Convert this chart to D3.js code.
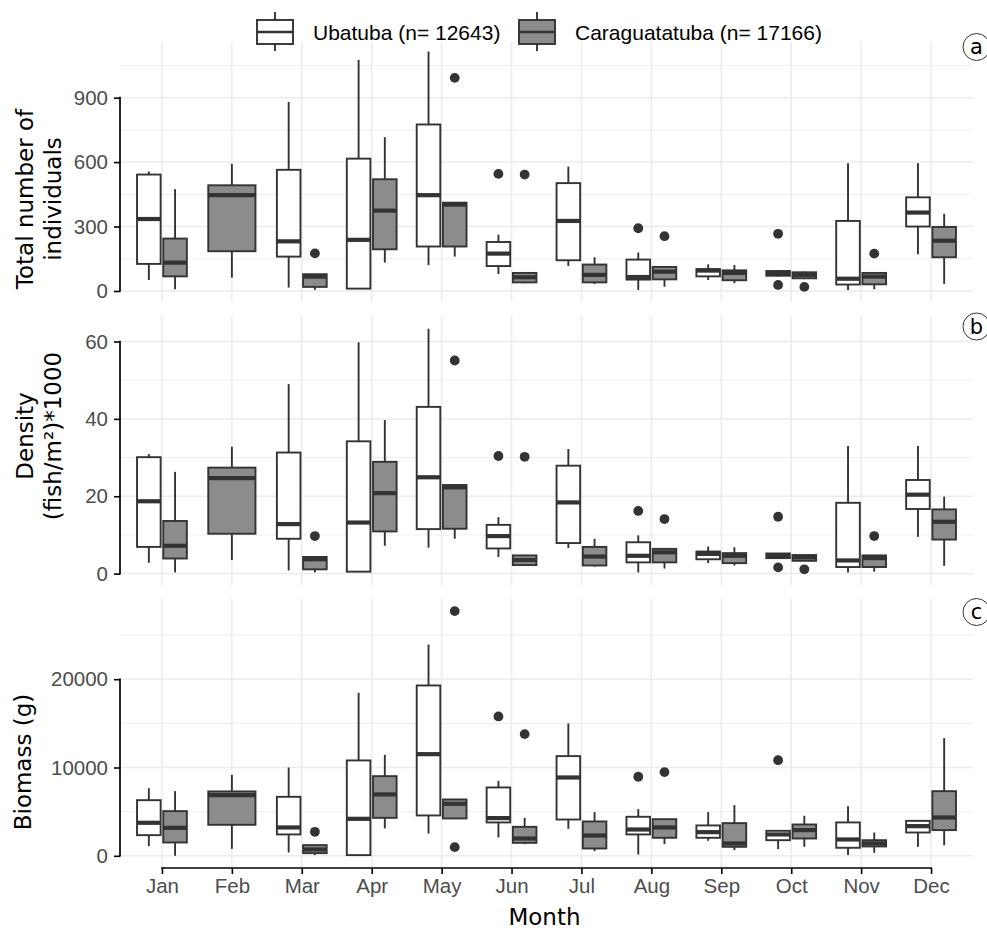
<!DOCTYPE html>
<html>
<head>
<meta charset="utf-8">
<script src="https://cdn.jsdelivr.net/npm/d3@7"></script>
<style>
  body { margin: 0; background: #fff; }
</style>
</head>
<body>
<div id="chart"></div>
<script>
// ---- data ----
const months = ["Jan", "Feb", "Mar", "Apr", "May", "Jun", "Jul", "Aug", "Sep", "Oct", "Nov", "Dec"];
const sites = ["Ubatuba (n= 12643)", "Caraguatatuba (n= 17166)"];

// [lower whisker, q1, median, q3, upper whisker]; null = no sample that month
const ubaIndividuals = [[51,126,335,542,556], null, [16,160,231,564,880], [11,11,238,616,1076],
  [120,207,446,775,1115], [79,116,174,228,262], [116,143,326,502,579], [5,53,65,146,179],
  [51,68,95,102,124], [68,71,82,93,97], [5,30,57,326,595], [171,300,365,436,595]];
const carIndividuals = [[8,68,132,244,474], [62,185,446,492,592], [5,19,67,78,78], [132,194,374,520,716],
  [160,207,402,411,411], [36,40,64,84,84], [33,40,75,123,157], [20,54,90,112,112],
  [36,50,84,96,121], [55,59,75,87,90], [8,31,67,84,84], [33,157,234,298,359]];
const ubaIndividualsOut = [[], [], [], [], [], [545], [], [292], [], [266, 28], [], []];
const carIndividualsOut = [[], [], [175], [], [992], [542], [], [255], [], [19], [174], []];

const ubaDensity = [[2.8,6.9,18.7,30.1,30.9], null, [0.8,9.0,12.8,31.3,49.0], [0.5,0.5,13.2,34.2,59.8],
  [6.7,11.5,24.9,43.1,63.3], [4.3,6.5,9.7,12.6,14.6], [6.6,7.9,18.4,27.9,32.2], [0.3,2.9,4.6,8.1,9.9],
  [2.7,3.7,5.1,5.7,7.0], [4.0,4.0,4.6,5.2,5.3], [0.3,1.7,3.4,18.3,33.0], [9.5,16.7,20.4,24.2,33.0]];
const carDensity = [[0.3,3.9,7.2,13.6,26.3], [3.5,10.3,24.7,27.4,32.8], [0.3,1.1,3.7,4.3,4.3], [7.2,10.9,20.8,28.9,39.7],
  [9.0,11.6,22.3,22.9,22.9], [2.2,2.2,3.5,4.7,4.7], [1.8,2.1,4.4,6.9,9.0], [1.3,2.9,5.5,6.4,6.4],
  [2.1,2.7,4.6,5.3,6.8], [3.3,3.3,4.2,4.8,4.8], [0.5,1.7,4.0,4.7,4.7], [2.0,8.8,13.4,16.6,19.9]];
const ubaDensityOut = [[], [], [], [], [], [30.4], [], [16.2], [], [14.7, 1.6], [], []];
const carDensityOut = [[], [], [9.7], [], [55.1], [30.2], [], [14.1], [], [1.1], [9.7], []];

const ubaBiomass = [[1090,2340,3740,6300,7660], null, [380,2420,3210,6680,10000], [80,80,4190,10800,18460],
  [2530,4570,11510,19290,23930], [2080,3780,4270,7740,8490], [3060,4110,8870,11290,14990], [150,2420,2980,4420,5290],
  [1700,2040,2680,3440,4950], [760,1770,2420,2830,2830], [80,910,1850,3780,5620], [1020,2640,3360,3960,4040]];
const carBiomass = [[0,1510,3170,5060,7320], [790,3510,6870,7290,9170], [80,300,720,1210,1210], [3100,4300,6950,9020,11440],
  [4230,4230,5890,6380,6380], [1320,1470,1960,3280,4300], [530,830,2300,3890,4950], [1320,2040,3210,4150,4150],
  [640,1020,1400,3700,5740], [1020,1960,2910,3550,4530], [340,1060,1400,1770,2640], [1210,2910,4340,7320,13330]];
const ubaBiomassOut = [[], [], [], [], [], [15780], [], [8950], [], [10830], [], []];
const carBiomassOut = [[], [], [2720], [], [27710, 980], [13780], [], [9480], [], [], [], []];

const individualsTicks = [0, 300, 600, 900];
const densityTicks = [0, 20, 40, 60];
const biomassTicks = [0, 10000, 20000];

// ---- layout ----
const width = 987, height = 931;
const plotLeft = 120, plotRight = 973;
const fills = ["#ffffff", "#8c8c8c"];
const ink = "#333333";
const gridColor = "#ebebeb";
const tickFont = "'Liberation Sans', Arial, sans-serif";
const titleFont = "'DejaVu Sans', Verdana, sans-serif";
const lw = 1.9;

const panels = [
  { tag: "a", title: ["Total number of", "individuals"], titleY: 199,
    top: 42, bottom: 301.5, domain: [-49, 1159], ticks: individualsTicks,
    data: [ubaIndividuals, carIndividuals], out: [ubaIndividualsOut, carIndividualsOut], tagY: 47 },
  { tag: "b", title: ["Density", "(fish/m\u00B2)*1000"], titleY: 436,
    top: 316, bottom: 585, domain: [-2.95, 66.6], ticks: densityTicks,
    data: [ubaDensity, carDensity], out: [ubaDensityOut, carDensityOut], tagY: 326.5 },
  { tag: "c", title: ["Biomass (g)"], titleY: 762,
    top: 599, bottom: 868, domain: [-1380, 29080], ticks: biomassTicks,
    data: [ubaBiomass, carBiomass], out: [ubaBiomassOut, carBiomassOut], tagY: 612 }
];

const svg = d3.select("#chart").append("svg")
  .attr("width", width)
  .attr("height", height)
  .attr("viewBox", [0, 0, width, height]);

// months on a point scale, padded like ggplot's discrete expansion
const x = d3.scalePoint(months, [plotLeft, plotRight]).padding(0.6);
const step = x.step();
const dodgeWidth = 0.75 * step;

panels.forEach((p, pi) => {
  const y = d3.scaleLinear(p.domain, [p.bottom, p.top]);
  const g = svg.append("g");

  // minor gridlines halfway between major ticks
  const tstep = p.ticks[1] - p.ticks[0];
  const minor = d3.range(p.ticks[0] - tstep / 2, p.domain[1], tstep).filter(v => v > p.domain[0] && v < p.domain[1]);
  const major = d3.range(p.ticks[0], p.domain[1], tstep);

  g.selectAll(".minor").data(minor).join("line")
    .attr("x1", plotLeft).attr("x2", plotRight)
    .attr("y1", d => y(d)).attr("y2", d => y(d))
    .attr("stroke", gridColor).attr("stroke-width", 0.9);
  g.selectAll(".major").data(major).join("line")
    .attr("x1", plotLeft).attr("x2", plotRight)
    .attr("y1", d => y(d)).attr("y2", d => y(d))
    .attr("stroke", gridColor).attr("stroke-width", 1.5);
  g.selectAll(".vgrid").data(months).join("line")
    .attr("x1", d => x(d)).attr("x2", d => x(d))
    .attr("y1", p.top).attr("y2", p.bottom)
    .attr("stroke", gridColor).attr("stroke-width", 1.5);

  // boxes
  months.forEach((m, i) => {
    const present = [0, 1].filter(s => p.data[s][i] !== null);
    const sub = dodgeWidth / present.length;
    present.forEach((s, k) => {
      const [lo, q1, med, q3, hi] = p.data[s][i];
      const cx = x(m) - dodgeWidth / 2 + sub * (k + 0.5);
      const bw = sub * 0.9;
      const bg = g.append("g");
      bg.append("line").attr("x1", cx).attr("x2", cx).attr("y1", y(hi)).attr("y2", y(q3))
        .attr("stroke", ink).attr("stroke-width", lw);
      bg.append("line").attr("x1", cx).attr("x2", cx).attr("y1", y(q1)).attr("y2", y(lo))
        .attr("stroke", ink).attr("stroke-width", lw);
      bg.append("rect")
        .attr("x", cx - bw / 2).attr("width", bw)
        .attr("y", y(q3)).attr("height", Math.max(0.5, y(q1) - y(q3)))
        .attr("fill", fills[s]).attr("stroke", ink).attr("stroke-width", lw);
      bg.append("line").attr("x1", cx - bw / 2).attr("x2", cx + bw / 2)
        .attr("y1", y(med)).attr("y2", y(med))
        .attr("stroke", ink).attr("stroke-width", 4.2);
      bg.selectAll("circle").data(p.out[s][i]).join("circle")
        .attr("cx", cx).attr("cy", d => y(d)).attr("r", 4.9)
        .attr("fill", ink);
    });
  });

  // y axis, capped between the first and last tick
  const yAxis = g.append("g")
    .attr("transform", `translate(${plotLeft},0)`)
    .call(d3.axisLeft(y).tickValues(p.ticks).tickSize(6).tickPadding(6).tickFormat(d3.format("d")));
  yAxis.select(".domain").remove();
  yAxis.selectAll(".tick line").attr("stroke", "#000").attr("stroke-width", 1.6);
  yAxis.selectAll(".tick text")
    .attr("fill", "#4d4d4d").style("font-family", tickFont).style("font-size", "20.5px");
  yAxis.append("line")
    .attr("x1", 0).attr("x2", 0)
    .attr("y1", y(p.ticks[0]) + 0.8).attr("y2", y(p.ticks[p.ticks.length - 1]) - 0.8)
    .attr("stroke", "#000").attr("stroke-width", 1.7);

  // y title
  const tt = g.append("text")
    .attr("transform", `translate(0,${p.titleY}) rotate(-90)`)
    .attr("text-anchor", "middle")
    .style("font-family", titleFont).style("font-size", "23px")
    .attr("fill", "#000");
  p.title.forEach((line, li) => {
    tt.append("tspan").attr("x", 0).attr("y", p.title.length === 1 ? 31 : 33 + li * 28).text(line);
  });

  // panel tag
  g.append("circle").attr("cx", 976.5).attr("cy", p.tagY).attr("r", 13.5)
    .attr("fill", "#fff").attr("stroke", ink).attr("stroke-width", 1);
  g.append("text").attr("x", 976.5).attr("y", p.tagY + 7)
    .attr("text-anchor", "middle")
    .style("font-family", titleFont).style("font-size", "21px")
    .attr("fill", "#000").text(p.tag);

  // x axis only on the bottom panel
  if (pi === panels.length - 1) {
    const xAxis = g.append("g")
      .attr("transform", `translate(0,${p.bottom})`)
      .call(d3.axisBottom(x).tickSize(6).tickPadding(4));
    xAxis.select(".domain").remove();
    xAxis.selectAll(".tick line").attr("stroke", "#000").attr("stroke-width", 1.6);
    xAxis.selectAll(".tick text")
      .attr("fill", "#4d4d4d").style("font-family", tickFont).style("font-size", "20.5px");
    xAxis.append("line")
      .attr("x1", x(months[0]) - 0.8).attr("x2", x(months[months.length - 1]) + 0.8)
      .attr("y1", 0).attr("y2", 0)
      .attr("stroke", "#000").attr("stroke-width", 1.7);

    svg.append("text")
      .attr("x", (plotLeft + plotRight) / 2 - 2).attr("y", 925)
      .attr("text-anchor", "middle")
      .style("font-family", titleFont).style("font-size", "23px")
      .attr("fill", "#000").text("Month");
  }
});

// legend
const legendX = [257, 519];
const legend = svg.append("g");
sites.forEach((name, s) => {
  const lx = legendX[s];
  const kg = legend.append("g").attr("transform", `translate(${lx},0)`);
  kg.append("line").attr("x1", 18).attr("x2", 18).attr("y1", 12).attr("y2", 51)
    .attr("stroke", ink).attr("stroke-width", lw);
  kg.append("rect").attr("x", 0).attr("y", 20).attr("width", 36).attr("height", 24)
    .attr("fill", fills[s]).attr("stroke", ink).attr("stroke-width", lw);
  kg.append("line").attr("x1", 0).attr("x2", 36).attr("y1", 32).attr("y2", 32)
    .attr("stroke", ink).attr("stroke-width", 2.5);
  kg.append("text").attr("x", 56).attr("y", 40)
    .style("font-family", tickFont).style("font-size", "21px")
    .attr("fill", "#000").text(name);
});
</script>
</body>
</html>
